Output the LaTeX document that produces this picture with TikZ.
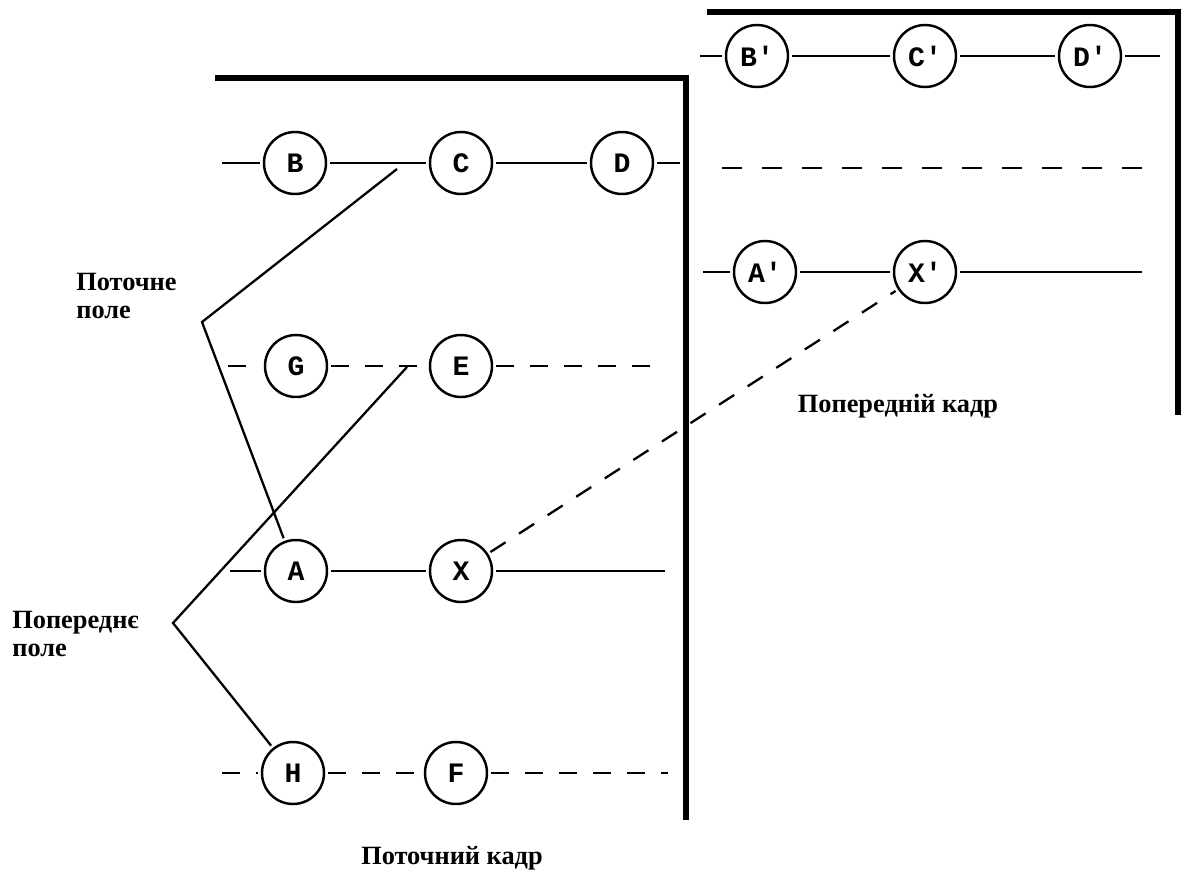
\documentclass[tikz,border=0pt]{standalone}
\usepackage{fontspec}
\setmainfont{Liberation Serif}
\newfontfamily\litery{Liberation Mono}

\tikzstyle{piksel} = [circle, draw, line width=1.4pt, minimum size=12.4mm, inner sep=0pt, outer sep=0.8mm, font=\litery\bfseries\fontsize{16}{16}\selectfont]
\tikzstyle{ramka} = [line width=2.9pt]
\tikzstyle{zvjazok} = [line width=1.3pt]
\tikzstyle{pole} = [zvjazok, dash pattern=on 3.6mm off 3.2mm]
\tikzstyle{pidpys} = [font=\bfseries\fontsize{15}{16}\selectfont, align=left, inner sep=0pt]

\begin{document}
\begin{tikzpicture}[x=0.2mm, y=-0.2mm]
\useasboundingbox (0,0) rectangle (1186,874);

% ramky kadriv
\draw[ramka] (215,78) -- (686,78) -- (686,820);
\draw[ramka] (707,12) -- (1178,12) -- (1178,415);

% potochnyi kadr
\node[piksel] (B) at (295,163) {B};
\node[piksel] (C) at (461,163) {C};
\node[piksel] (D) at (622,163) {D};
\node[piksel] (G) at (296,366) {G};
\node[piksel] (E) at (461,366) {E};
\node[piksel] (A) at (296,571) {A};
\node[piksel] (X) at (461,571) {X};
\node[piksel] (H) at (293,773) {H};
\node[piksel] (F) at (456,773) {F};

% poperednii kadr
\node[piksel] (Bp) at (757,56) {B'};
\node[piksel] (Cp) at (925,56) {C'};
\node[piksel] (Dp) at (1090,56) {D'};
\node[piksel] (Ap) at (765,272) {A'};
\node[piksel] (Xp) at (925,272) {X'};

% kinci ryadkiv
\coordinate (r1l) at (222,163);
\coordinate (r1r) at (680,163);
\coordinate (r2l) at (228,366);
\coordinate (r2r) at (665,366);
\coordinate (r3l) at (230,571);
\coordinate (r3r) at (665,571);
\coordinate (r4l) at (222,773);
\coordinate (r4r) at (668,773);
\coordinate (q1l) at (700,56);
\coordinate (q1r) at (1160,56);
\coordinate (q2l) at (722,168);
\coordinate (q2r) at (1142,168);
\coordinate (q3l) at (703,272);
\coordinate (q3r) at (1142,272);

% ryadky
\draw[zvjazok] (r1l) -- (B) -- (C) -- (D) -- (r1r);
\draw[pole] (r2l) -- (G) -- (E) -- (r2r);
\draw[zvjazok] (r3l) -- (A) -- (X) -- (r3r);
\draw[pole] (r4l) -- (H) -- (F) -- (r4r);
\draw[zvjazok] (q1l) -- (Bp) -- (Cp) -- (Dp) -- (q1r);
\draw[pole, dash pattern=on 4mm off 4mm] (q2l) -- (q2r);
\draw[zvjazok] (q3l) -- (Ap) -- (Xp) -- (q3r);

% polya
\coordinate (vp) at (202,322);
\coordinate (vp1) at (397,169);
\coordinate (vpp) at (173,623);
\coordinate (vpp1) at (407,367);
\draw[zvjazok] (vp1) -- (vp) -- (A);
\draw[zvjazok] (vpp1) -- (vpp) -- (H);
\draw[pole] (X) -- (Xp);

% pidpysy
\node[pidpys, anchor=west] (tpole) at (76,296) {Поточне\\поле};
\node[pidpys, anchor=west] (ppole) at (12,634) {Попереднє\\поле};
\node[pidpys] (pkadr) at (898,406) {Попередній кадр};
\node[pidpys] (tkadr) at (452,858) {Поточний кадр};
\end{tikzpicture}
\end{document}
